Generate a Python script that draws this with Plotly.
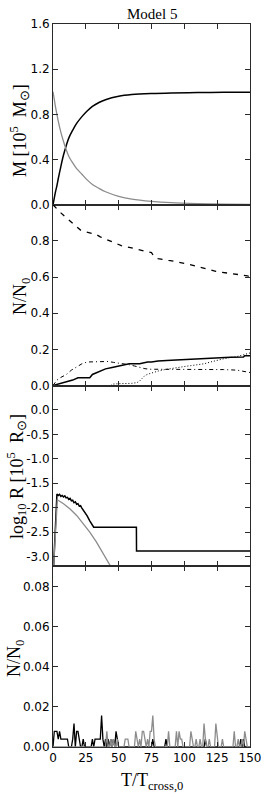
import plotly.graph_objects as go
from plotly.subplots import make_subplots

# ---------------- data ----------------
# Panel 1: mass
t_mass = [0, 1, 2, 3, 4, 6, 8, 10, 12, 15, 18, 22, 26, 30, 35, 40, 50, 60, 75, 90, 110, 130, 150]
m_black = [0, 0.06, 0.12, 0.17, 0.23, 0.34, 0.44, 0.52, 0.59, 0.66, 0.72, 0.78, 0.83, 0.87, 0.905, 0.93, 0.96, 0.975, 0.985, 0.99, 0.993, 0.995, 0.996]
m_gray = [1.0, 0.93, 0.86, 0.80, 0.74, 0.64, 0.56, 0.49, 0.43, 0.37, 0.32, 0.27, 0.22, 0.18, 0.145, 0.115, 0.075, 0.05, 0.03, 0.018, 0.01, 0.006, 0.004]

# Panel 2: N/N0 fractions
t_dash = [0, 3, 6, 9, 12, 15, 18, 21, 24, 27, 30, 33, 36, 40, 44, 48, 52, 56, 60, 64, 68, 72, 75, 77, 80, 84, 88, 92, 96, 100, 104, 108, 112, 116, 120, 124, 128, 132, 136, 140, 144, 148, 150]
n_dash = [1.0, 0.975, 0.955, 0.935, 0.915, 0.895, 0.875, 0.86, 0.852, 0.846, 0.842, 0.835, 0.822, 0.81, 0.795, 0.782, 0.774, 0.768, 0.762, 0.756, 0.75, 0.74, 0.735, 0.712, 0.702, 0.695, 0.692, 0.688, 0.684, 0.676, 0.67, 0.662, 0.655, 0.645, 0.638, 0.632, 0.627, 0.623, 0.621, 0.619, 0.613, 0.607, 0.6]

t_dashdot = [0, 3, 6, 10, 14, 18, 22, 26, 30, 34, 38, 42, 46, 50, 54, 58, 62, 66, 70, 74, 80, 90, 100, 110, 120, 130, 140, 145, 150]
n_dashdot = [0, 0.03, 0.045, 0.06, 0.085, 0.105, 0.12, 0.13, 0.13, 0.13, 0.133, 0.133, 0.128, 0.125, 0.12, 0.115, 0.108, 0.1, 0.093, 0.09, 0.09, 0.092, 0.09, 0.09, 0.09, 0.088, 0.085, 0.078, 0.072]

t_dot = [44, 46, 50, 55, 60, 64, 66, 68, 70, 72, 75, 80, 85, 90, 95, 100, 105, 110, 115, 120, 125, 130, 135, 140, 145, 148, 150]
n_dot = [0.0, 0.008, 0.01, 0.01, 0.012, 0.016, 0.025, 0.04, 0.055, 0.062, 0.07, 0.08, 0.088, 0.095, 0.1, 0.105, 0.11, 0.115, 0.12, 0.13, 0.14, 0.148, 0.155, 0.16, 0.17, 0.175, 0.18]

t_solid = [0, 5, 10, 15, 19, 28, 30, 33, 37, 40, 45, 50, 55, 58, 66, 72, 75, 80, 90, 100, 110, 115, 125, 135, 145, 146, 150]
n_solid = [0, 0.01, 0.018, 0.03, 0.043, 0.043, 0.061, 0.07, 0.08, 0.092, 0.1, 0.108, 0.115, 0.12, 0.12, 0.13, 0.13, 0.135, 0.14, 0.144, 0.148, 0.15, 0.154, 0.156, 0.157, 0.165, 0.165]

# Panel 3: log10 R
t_rb = [0.3, 3, 4, 5, 6, 7, 8, 9, 10, 11, 12, 13, 14, 15, 16, 17, 18, 19, 20, 21, 22, 24, 26, 28, 30, 31, 63.5, 63.6, 150]
r_black = [-3.3, -1.72, -1.75, -1.73, -1.77, -1.75, -1.78, -1.76, -1.80, -1.79, -1.83, -1.81, -1.86, -1.85, -1.90, -1.88, -1.93, -1.92, -1.97, -1.96, -2.01, -2.08, -2.17, -2.27, -2.36, -2.40, -2.40, -2.89, -2.89]
t_rg = [0.3, 3.3, 8, 13, 18, 23, 28, 33, 38, 44, 46]
r_gray = [-3.3, -1.84, -1.92, -2.03, -2.16, -2.32, -2.50, -2.70, -2.92, -3.2, -3.3]

# Panel 4: escaper counts (N0 = 256)
N0 = 256
t_esc = list(range(0, 151))
black_counts = [0] * 151
for tt, c in {1: 2, 2: 2, 3: 2, 4: 1, 5: 2, 6: 1, 7: 1, 8: 1, 9: 1, 10: 1, 11: 1,
              15: 1, 16: 3, 18: 2, 19: 2, 20: 1, 23: 1, 30: 1, 32: 1, 33: 1, 34: 1,
              35: 1, 36: 1, 37: 4, 38: 1, 40: 1, 42: 1, 44: 1, 46: 1, 48: 2, 49: 1,
              76: 1, 86: 1, 116: 1, 143: 1, 145: 1}.items():
    black_counts[tt] = c
gray_counts = [0] * 151
for tt, c in {41: 2, 44: 1, 46: 1, 49: 1, 55: 1, 56: 1, 57: 1, 63: 2, 64: 1, 66: 1,
              68: 2, 69: 2, 70: 1, 72: 1, 74: 2, 75: 2, 76: 4, 77: 1, 88: 2, 94: 2,
              96: 2, 97: 1, 98: 1, 105: 2, 106: 1, 109: 1, 112: 1, 115: 3, 116: 1,
              119: 1, 124: 3, 125: 1, 129: 1, 138: 2, 141: 1, 144: 1, 146: 2, 147: 1}.items():
    gray_counts[tt] = c
esc_black = [c / N0 for c in black_counts]
esc_gray = [c / N0 for c in gray_counts]

x_ticks = [0, 25, 50, 75, 100, 125, 150]

# ---------------- figure ----------------
BLACK = "#000000"
GRAY = "#8c8c8c"
FRAME = "#2a2a2a"

fig = make_subplots(rows=4, cols=1, shared_xaxes=True, vertical_spacing=0)

fig.add_trace(go.Scatter(x=t_mass, y=m_black, mode="lines", line=dict(color=BLACK, width=1.5, shape="spline")), 1, 1)
fig.add_trace(go.Scatter(x=t_mass, y=m_gray, mode="lines", line=dict(color=GRAY, width=1.3, shape="spline")), 1, 1)

fig.add_trace(go.Scatter(x=t_dash, y=n_dash, mode="lines", line=dict(color=BLACK, width=1.3, dash="5px,6px")), 2, 1)
fig.add_trace(go.Scatter(x=t_dashdot, y=n_dashdot, mode="lines", line=dict(color=BLACK, width=1.0, dash="4px,3px,1px,3px")), 2, 1)
fig.add_trace(go.Scatter(x=t_dot, y=n_dot, mode="lines", line=dict(color=BLACK, width=1.0, dash="1px,2px")), 2, 1)
fig.add_trace(go.Scatter(x=t_solid, y=n_solid, mode="lines", line=dict(color=BLACK, width=1.5)), 2, 1)

fig.add_trace(go.Scatter(x=t_rb, y=r_black, mode="lines", line=dict(color=BLACK, width=1.5)), 3, 1)
fig.add_trace(go.Scatter(x=t_rg, y=r_gray, mode="lines", line=dict(color=GRAY, width=1.3)), 3, 1)

fig.add_trace(go.Scatter(x=t_esc, y=esc_black, mode="lines", line=dict(color=BLACK, width=1.3)), 4, 1)
fig.add_trace(go.Scatter(x=t_esc, y=esc_gray, mode="lines", line=dict(color=GRAY, width=1.3)), 4, 1)

TICKFONT = dict(family="DejaVu Sans", size=12, color="#000000")
TITLEFONT = dict(family="Liberation Serif", size=18, color="#000000")

axis_common = dict(showline=True, linecolor=FRAME, linewidth=1, mirror="ticks",
                   ticks="inside", ticklen=5, tickwidth=1, tickcolor=FRAME,
                   showgrid=False, zeroline=False, tickfont=TICKFONT, automargin=False)

for r in range(1, 5):
    fig.update_xaxes(range=[0, 150], tickvals=x_ticks, ticktext=[str(v) for v in x_ticks],
                     showticklabels=(r == 4), row=r, col=1, **axis_common)

y1_ticks = [0.0, 0.4, 0.8, 1.2, 1.6]
y2_ticks = [0.0, 0.2, 0.4, 0.6, 0.8]
y3_ticks = [0.0, -0.5, -1.0, -1.5, -2.0, -2.5, -3.0]
y4_ticks = [0.0, 0.02, 0.04, 0.06, 0.08]

fig.update_yaxes(range=[0, 1.6], tickvals=y1_ticks, ticktext=[f"{v:.1f}" for v in y1_ticks], row=1, col=1, **axis_common)
fig.update_yaxes(range=[0, 1.0], tickvals=y2_ticks, ticktext=[f"{v:.1f}" for v in y2_ticks], row=2, col=1, **axis_common)
fig.update_yaxes(range=[-3.2, 0.5], tickvals=y3_ticks, ticktext=[f"{v:.1f}" for v in y3_ticks], row=3, col=1, **axis_common)
fig.update_yaxes(range=[0, 0.09], tickvals=y4_ticks, ticktext=[f"{v:.2f}" for v in y4_ticks], row=4, col=1, **axis_common)

# plot area spans pixels x=53..250, y=24..747
def py(px):
    return (747 - px) / 723.0

ylabels = [
    ("M [10<sup>5</sup>  M<sub>⊙</sub>]", 131, -34),
    ("N/N<sub>0</sub>", 297, -32),
    ("log<sub>10</sub> R [10<sup>5</sup>  R<sub>⊙</sub>]", 477, -37),
    ("N/N<sub>0</sub>", 659, -38),
]
for text, ypx, xs in ylabels:
    fig.add_annotation(text=text, xref="paper", yref="paper", x=0, y=py(ypx),
                       xshift=xs, textangle=-90, showarrow=False,
                       xanchor="center", yanchor="middle", font=TITLEFONT)

fig.add_annotation(text="T/T<sub>cross,0</sub>", xref="paper", yref="paper", x=0.5, y=py(781),
                   showarrow=False, xanchor="center", yanchor="middle", font=TITLEFONT)

fig.add_annotation(text="Model 5", xref="paper", yref="paper", x=0.5, y=py(14),
                   showarrow=False, xanchor="center", yanchor="middle",
                   font=dict(family="Liberation Serif", size=15, color="#000000"))

fig.update_layout(
    width=266, height=797,
    margin=dict(l=53, r=16, t=24, b=50, autoexpand=False),
    paper_bgcolor="white", plot_bgcolor="white",
    showlegend=False,
)

fig.write_html("out.html", config={"displayModeBar": False},
               post_script="document.body.style.margin='0px';document.body.style.padding='0px';document.body.style.overflow='hidden';")
